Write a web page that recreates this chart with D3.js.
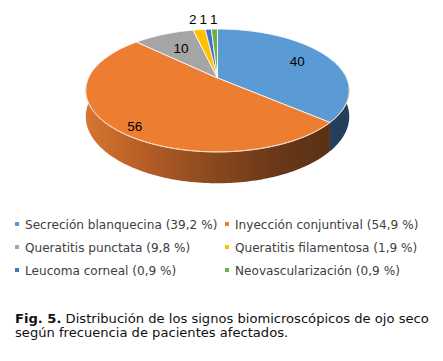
<!DOCTYPE html>
<html><head><meta charset="utf-8">
<script src="https://cdn.jsdelivr.net/npm/d3@7"></script>
<style>html,body{margin:0;padding:0;background:#fff;}svg{display:block;}</style>
</head><body>
<svg id="chart" width="443" height="361"></svg>
<script>
const categories = ["Secreción blanquecina","Inyección conjuntival","Queratitis punctata","Queratitis filamentosa","Leucoma corneal","Neovascularización"];
const values = [40,56,10,2,1,1];
const percents = ["39,2 %","54,9 %","9,8 %","1,9 %","0,9 %","0,9 %"];
const colors = ["#5B9BD5","#ED7D31","#A5A5A5","#FFC000","#4472C4","#70AD47"];
const sideColors = ["#233F5D","url(#orangeSide)","#6E6E6E","#A67C00","#2C4A80","#4A7330"];
const captionBold = "Fig. 5.";
const captionLines = [" Distribución de los signos biomicroscópicos de ojo seco","según frecuencia de pacientes afectados."];

const svg = d3.select("#chart");
const CX = 217.5, CY = 78, R = 129, B = 58.9, P = 0.203, H = 25;
function proj(theta, r, depth){
  const u = r*Math.sin(theta), v = -r*Math.cos(theta);
  const s = 1/(1 - P*v);
  return [CX + R*u*s, CY + B*v*s + depth*s];
}
const pie = d3.pie().sort(null).value(d=>d);
const arcs = pie(values);

const defs = svg.append("defs");
const g1 = defs.append("linearGradient").attr("id","orangeSide")
  .attr("gradientUnits","userSpaceOnUse").attr("x1",CX-R*1.02).attr("x2",proj(arcs[0].endAngle,1,0)[0]).attr("y1",0).attr("y2",0);
[[0,"#D57631"],[0.22,"#B85F27"],[0.5,"#8C4A1F"],[0.78,"#693819"],[1,"#5A3014"]].forEach(s=>g1.append("stop").attr("offset",s[0]).attr("stop-color",s[1]));

function arcPts(a0,a1,r,depth){
  const n = Math.max(2, Math.ceil((a1-a0)/0.02));
  const pts=[];
  for(let i=0;i<=n;i++){ pts.push(proj(a0+(a1-a0)*i/n, r, depth)); }
  return pts;
}
const line = d3.line();

// side walls (near half visible)
const wallG = svg.append("g");
arcs.forEach((d,i)=>{
  const a0 = Math.max(d.startAngle, Math.PI/2 - 0.3), a1 = Math.min(d.endAngle, 3*Math.PI/2 + 0.3);
  if(a1 <= a0) return;
  const top = arcPts(a0,a1,1,0), bot = arcPts(a0,a1,1,H).reverse();
  wallG.append("path").attr("d", line(top.concat(bot))+"Z").attr("fill", sideColors[i]);
});

// top faces
const topG = svg.append("g");
arcs.forEach((d,i)=>{
  const pts = [proj(0,0,0)].concat(arcPts(d.startAngle,d.endAngle,1,0));
  topG.append("path").attr("d", line(pts)+"Z").attr("fill", colors[i])
    .attr("stroke","#fff").attr("stroke-width",0.8).attr("stroke-linejoin","round");
});
// rim highlight on near edge
svg.append("path").attr("d", line(arcPts(Math.PI/2+0.15, 3*Math.PI/2-0.1, 1, 0)))
  .attr("fill","none").attr("stroke","#F6D2B5").attr("stroke-width",1).attr("opacity",0.9);

// data labels
const total = d3.sum(values);
const labels = arcs.map((d,i)=>{
  const frac = d.value/total, mid = (d.startAngle+d.endAngle)/2;
  const outside = frac < 0.05;
  const r = outside ? 1.26 : (frac < 0.2 ? 0.64 : (frac > 0.45 ? 0.83 : 0.72));
  const p = proj(mid, r, frac > 0.45 ? 6 : 0);
  return {v:d.value, x:p[0], y:p[1], outside};
});
// spread outside labels so they don't collide (right to left)
const outs = labels.filter(l=>l.outside).sort((a,b)=>b.x-a.x);
for(let k=1;k<outs.length;k++){ outs[k].x = Math.min(outs[k].x, outs[k-1].x - 10.5); }
labels.forEach(l=>{
  svg.append("text").attr("x",l.x).attr("y",l.y).attr("text-anchor","middle").attr("dy","0.35em")
    .attr("font-family","Liberation Sans, Arial, sans-serif").attr("font-size",13.5).attr("fill","#000")
    .text(l.v);
});

// legend
const legend = svg.append("g").attr("font-family","DejaVu Sans, Verdana, sans-serif").attr("font-size",12.1).attr("fill","#404040");
const colX = d3.scalePoint().domain([0,1]).range([15,225]);
const rowY = d3.scalePoint().domain([0,1,2]).range([229,275]);
categories.forEach((c,i)=>{
  const x = colX(i%2), y = rowY(Math.floor(i/2));
  legend.append("rect").attr("x",x).attr("y",y-7).attr("width",4).attr("height",4).attr("fill",colors[i]);
  legend.append("text").attr("x",x+10).attr("y",y).text(`${c} (${percents[i]})`);
});

// caption
const cap = svg.append("g").attr("font-family","DejaVu Sans, Verdana, sans-serif").attr("font-size",13.1).attr("fill","#111");
const t1 = cap.append("text").attr("x",15).attr("y",323);
t1.append("tspan").attr("font-weight","bold").text(captionBold);
t1.append("tspan").text(captionLines[0]);
cap.append("text").attr("x",15).attr("y",336.5).text(captionLines[1]);
</script>
</body></html>
